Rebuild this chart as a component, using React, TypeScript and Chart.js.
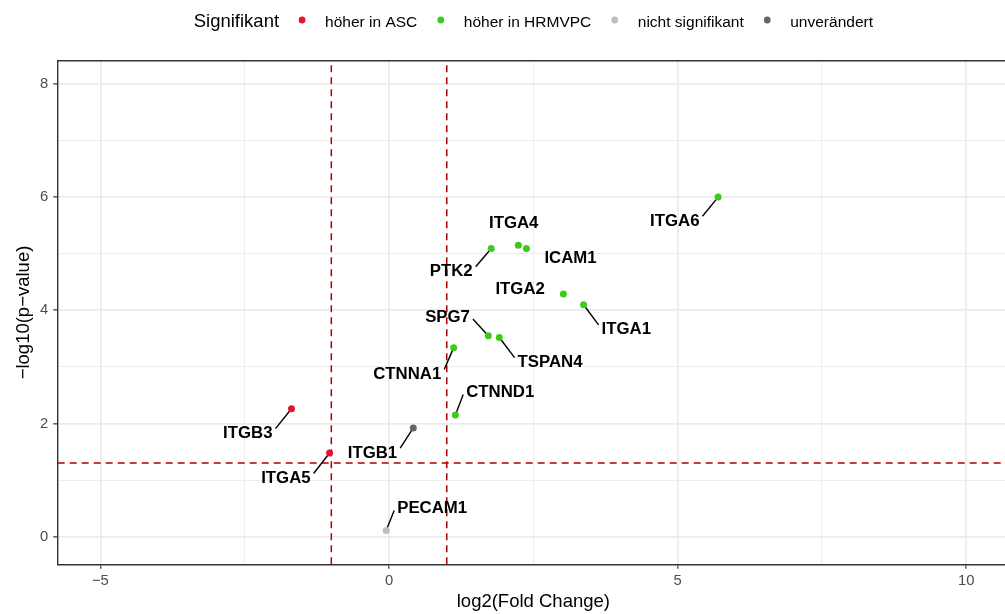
import React, { useEffect, useRef } from "react";
import { Chart, registerables } from "chart.js";

Chart.register(...registerables);

// ---------- data ----------
const GENES = ["ITGA6", "ITGA4", "ICAM1", "PTK2", "ITGA2", "ITGA1", "SPG7", "TSPAN4", "CTNNA1", "CTNND1", "ITGB3", "ITGA5", "ITGB1", "PECAM1"];
const LOG2_FC = [5.70, 2.24, 2.38, 1.77, 3.02, 3.37, 1.72, 1.91, 1.12, 1.15, -1.69, -1.03, 0.42, -0.05];
const NEG_LOG10_P = [6.00, 5.15, 5.09, 5.09, 4.29, 4.10, 3.55, 3.52, 3.34, 2.15, 2.26, 1.48, 1.92, 0.11];
const GROUPS = ["up", "up", "up", "up", "up", "up", "up", "up", "up", "up", "down", "down", "unchanged", "ns"];

const GROUP_KEYS = ["down", "up", "ns", "unchanged"];
const GROUP_LABELS = ["höher in ASC", "höher in HRMVPC", "nicht signifikant", "unverändert"];
const GROUP_COLORS = ["#E8132B", "#3DCB1B", "#BEBEBE", "#666666"];
const LEGEND_TITLE = "Signifikant";

const X_MAJOR = [-5, 0, 5, 10];
const X_MINOR = [-2.5, 2.5, 7.5];
const Y_MAJOR = [0, 2, 4, 6, 8];
const Y_MINOR = [1, 3, 5, 7];
const X_RANGE = [-5.74, 10.74];
const Y_RANGE = [-0.487, 8.41];

const FC_CUTOFFS = [-1, 1];
const P_CUTOFF = 1.30103;

const X_TITLE = "log2(Fold Change)";
const Y_TITLE = "\u2212log10(p\u2212value)";

// label placement (pixel nudges from point, like ggrepel output)
const LABEL_DX = [-43.3, -4.6, 44.1, -40, -43.2, 42.7, -40.8, 50.8, -46.5, 44.8, -43.7, -43.7, -40.8, 46];
const LABEL_DY = [22.6, -23, 8.7, 21.7, -6.4, 23.7, -20.3, 23.7, 25.4, -24, 23.3, 24, 23.6, -23.4];
const LABEL_SEGMENT = [true, false, false, true, false, true, true, true, true, true, true, true, true, true];

// ---------- styles ----------
const FONT = '"Liberation Sans", Arial, Helvetica, sans-serif';
const BORDER = "#333333";
const GRID = "#EBEBEB";
const CUTOFF_COLOR = "#B00000";

const fmt = (v: number) => (v < 0 ? "\u2212" + Math.abs(v) : String(v));

const panelPlugin = {
  id: "panelExtras",
  afterDraw(chart: any) {
    const { ctx, chartArea } = chart;
    const xs = chart.scales.x;
    const ys = chart.scales.y;
    ctx.save();
    // top & right border
    ctx.strokeStyle = BORDER;
    ctx.lineWidth = 1.4;
    ctx.beginPath();
    ctx.moveTo(chartArea.left, chartArea.top);
    ctx.lineTo(chartArea.right, chartArea.top);
    ctx.lineTo(chartArea.right, chartArea.bottom);
    ctx.stroke();

    // gene labels
    const fs = 16.8;
    ctx.font = `bold ${fs}px ${FONT}`;
    ctx.fillStyle = "#000000";
    ctx.textAlign = "center";
    ctx.textBaseline = "alphabetic";
    GENES.forEach((g, i) => {
      const px = xs.getPixelForValue(LOG2_FC[i]);
      const py = ys.getPixelForValue(NEG_LOG10_P[i]);
      const cx = px + LABEL_DX[i];
      const cy = py + LABEL_DY[i];
      const w = ctx.measureText(g).width;
      ctx.fillText(g, cx, cy + (0.716 * fs) / 2);
      if (LABEL_SEGMENT[i]) {
        const hw = w / 2 + 3;
        const hh = 3.5;
        const ex = Math.min(Math.max(px, cx - hw), cx + hw);
        const ey = Math.min(Math.max(py, cy - hh), cy + hh);
        const dx = ex - px;
        const dy = ey - py;
        const len = Math.hypot(dx, dy);
        if (len > 5) {
          const sx = px + (dx / len) * 3.5;
          const sy = py + (dy / len) * 3.5;
          ctx.strokeStyle = "#000000";
          ctx.lineWidth = 1.4;
          ctx.beginPath();
          ctx.moveTo(sx, sy);
          ctx.lineTo(ex, ey);
          ctx.stroke();
        }
      }
    });

    // legend
    const titleFs = 18.5;
    const itemFs = 15.5;
    const gapTitleDot = 23;
    const gapDotText = 23;
    const gapTextDot = 23.5;
    ctx.font = `${titleFs}px ${FONT}`;
    const tw = ctx.measureText(LEGEND_TITLE).width;
    ctx.font = `${itemFs}px ${FONT}`;
    const iws = GROUP_LABELS.map((l) => ctx.measureText(l).width);
    let total = tw + gapTitleDot;
    iws.forEach((w, k) => {
      total += gapDotText + w + (k < iws.length - 1 ? gapTextDot : 0);
    });
    const center = (chartArea.left + chartArea.right) / 2;
    let x = center - total / 2;
    const baseY = 26.5;
    const dotY = 20;
    ctx.textAlign = "left";
    ctx.font = `${titleFs}px ${FONT}`;
    ctx.fillStyle = "#000000";
    ctx.fillText(LEGEND_TITLE, x, baseY);
    x += tw + gapTitleDot;
    ctx.font = `${itemFs}px ${FONT}`;
    GROUP_LABELS.forEach((l, k) => {
      ctx.fillStyle = GROUP_COLORS[k];
      ctx.beginPath();
      ctx.arc(x, dotY, 3.4, 0, Math.PI * 2);
      ctx.fill();
      x += gapDotText;
      ctx.fillStyle = "#000000";
      ctx.fillText(l, x, baseY);
      x += iws[k] + gapTextDot;
    });
    ctx.restore();
  },
};

export default function App() {
  const ref = useRef<HTMLCanvasElement>(null);

  useEffect(() => {
    const pointSets = GROUP_KEYS.map((key, k) => ({
      type: "scatter" as const,
      label: GROUP_LABELS[k],
      data: GENES.map((_, i) => i)
        .filter((i) => GROUPS[i] === key)
        .map((i) => ({ x: LOG2_FC[i], y: NEG_LOG10_P[i] })),
      backgroundColor: GROUP_COLORS[k],
      borderWidth: 0,
      pointRadius: 3.5,
      order: 0,
    }));
    const cutoffStyle = {
      type: "line" as const,
      showLine: true,
      borderColor: CUTOFF_COLOR,
      borderWidth: 1.5,
      borderDash: [7, 5],
      pointRadius: 0,
      fill: false,
      order: 2,
    };
    const cutoffSets = [
      ...FC_CUTOFFS.map((c) => ({
        ...cutoffStyle,
        label: "fc" + c,
        data: [
          { x: c, y: Y_RANGE[0] },
          { x: c, y: Y_RANGE[1] },
        ],
      })),
      {
        ...cutoffStyle,
        label: "p",
        data: [
          { x: X_RANGE[0], y: P_CUTOFF },
          { x: X_RANGE[1], y: P_CUTOFF },
        ],
      },
    ];

    const isMajor = (list: number[], v: number) => list.some((m) => Math.abs(m - v) < 1e-9);

    const chart = new Chart(ref.current as HTMLCanvasElement, {
      type: "scatter",
      data: { datasets: [...pointSets, ...cutoffSets] as any },
      options: {
        responsive: false,
        animation: false,
        devicePixelRatio: 1,
        layout: { padding: { top: 60.7, left: 0, right: 0, bottom: 0 } },
        plugins: { legend: { display: false }, tooltip: { enabled: false } },
        scales: {
          x: {
            type: "linear",
            min: X_RANGE[0],
            max: X_RANGE[1],
            afterBuildTicks: (s: any) => {
              s.ticks = [...X_MAJOR, ...X_MINOR].sort((a, b) => a - b).map((v) => ({ value: v }));
            },
            afterFit: (s: any) => {
              s.height = 49.7;
            },
            grid: {
              color: GRID,
              lineWidth: (c: any) => (c.tick && isMajor(X_MAJOR, c.tick.value) ? 1.7 : 0.9),
              tickColor: (c: any) => (c.tick && isMajor(X_MAJOR, c.tick.value) ? BORDER : "rgba(0,0,0,0)"),
              tickLength: 4.5,
              tickWidth: 1.2,
            },
            border: { display: true, color: BORDER, width: 1.4 },
            ticks: {
              autoSkip: false,
              maxRotation: 0,
              padding: 3,
              color: "#4D4D4D",
              font: { family: FONT, size: 14.8 },
              callback: (v: any) => (isMajor(X_MAJOR, Number(v)) ? fmt(Number(v)) : ""),
            },
            title: {
              display: true,
              text: X_TITLE,
              color: "#000000",
              font: { family: FONT, size: 18.5 },
              padding: { top: 0, bottom: 1.2 },
            },
          },
          y: {
            type: "linear",
            min: Y_RANGE[0],
            max: Y_RANGE[1],
            afterBuildTicks: (s: any) => {
              s.ticks = [...Y_MAJOR, ...Y_MINOR].sort((a, b) => a - b).map((v) => ({ value: v }));
            },
            afterFit: (s: any) => {
              s.width = 57.7;
            },
            grid: {
              color: GRID,
              lineWidth: (c: any) => (c.tick && isMajor(Y_MAJOR, c.tick.value) ? 1.7 : 0.9),
              tickColor: (c: any) => (c.tick && isMajor(Y_MAJOR, c.tick.value) ? BORDER : "rgba(0,0,0,0)"),
              tickLength: 4.5,
              tickWidth: 1.2,
            },
            border: { display: true, color: BORDER, width: 1.4 },
            ticks: {
              autoSkip: false,
              padding: 4.9,
              color: "#4D4D4D",
              font: { family: FONT, size: 14.8 },
              callback: (v: any) => (isMajor(Y_MAJOR, Number(v)) ? fmt(Number(v)) : ""),
            },
            title: {
              display: true,
              text: Y_TITLE,
              color: "#000000",
              font: { family: FONT, size: 18.5 },
              padding: { top: 13, bottom: 0 },
            },
          },
        },
      },
      plugins: [panelPlugin],
    } as any);
    return () => chart.destroy();
  }, []);

  return (
    <div
      style={{
        position: "absolute",
        left: 0,
        top: 0,
        width: 1005,
        height: 614,
        overflow: "hidden",
        background: "#ffffff",
      }}
    >
      <canvas ref={ref} width={1013} height={614} style={{ display: "block", width: 1013, height: 614 }} />
    </div>
  );
}
